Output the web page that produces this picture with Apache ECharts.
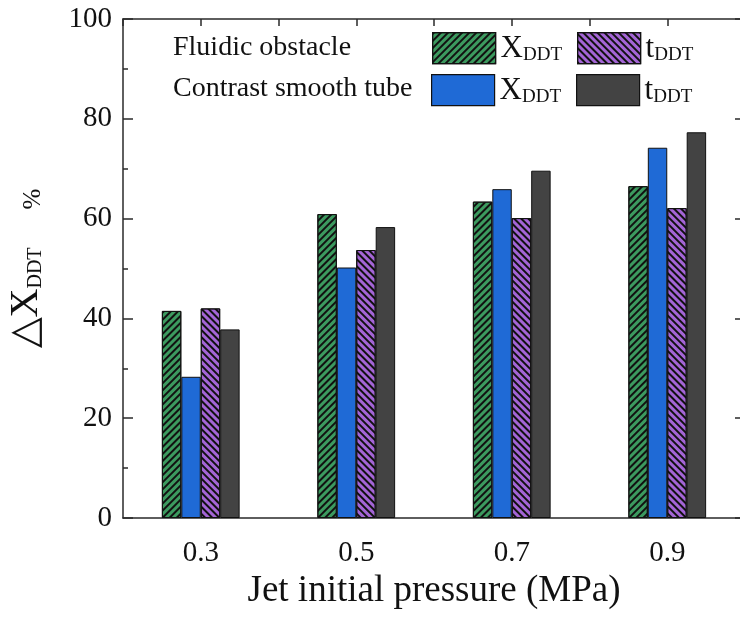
<!DOCTYPE html>
<html><head><meta charset="utf-8">
<script src="https://cdn.jsdelivr.net/npm/echarts@6/dist/echarts.min.js"></script>
<style>html,body{margin:0;padding:0;background:#fff}#c{width:740px;height:626px}</style>
</head><body><div id="c"></div>
<script>
const categories = ['0.3', '0.5', '0.7', '0.9'];
const fluidicX = [41.5, 60.9, 63.4, 66.5];
const smoothX  = [28.3, 50.2, 65.9, 74.2];
const fluidicT = [42.0, 53.7, 60.1, 62.1];
const smoothT  = [37.8, 58.3, 69.6, 77.3];
const rowLabels = ['Fluidic obstacle', 'Contrast smooth tube'];
const xTitle = 'Jet initial pressure (MPa)';

const FONT = '"Liberation Serif", "Times New Roman", serif';
const AX = '#2a2a2a';
const chart = echarts.init(document.getElementById('c'), null, {renderer: 'canvas'});

const stripe = (rot) => ({symbol: 'rect', symbolSize: 1, dashArrayX: [1, 0], dashArrayY: [2, 2.2], rotation: rot, color: '#111'});
const border = {borderColor: '#111', borderWidth: 1};

const seriesDefs = [
  {id: 'gx', data: fluidicX, itemStyle: Object.assign({color: '#3c9a5f', decal: stripe(-Math.PI / 4)}, border)},
  {id: 'bx', data: smoothX, itemStyle: Object.assign({color: '#1f6ad6'}, border)},
  {id: 'pt', data: fluidicT, itemStyle: Object.assign({color: '#a465d6', decal: stripe(Math.PI / 4)}, border)},
  {id: 'dt', data: smoothT, itemStyle: Object.assign({color: '#434343'}, border)}
];

const legendRich = {
  m: {fontSize: 31, lineHeight: 32, verticalAlign: 'bottom', fontFamily: FONT, color: '#111'},
  s: {fontSize: 19, lineHeight: 6, verticalAlign: 'bottom', fontFamily: FONT, color: '#111'}
};
const legendLabel = {gx: '{m|X}{s|DDT}', bx: '{m|X}{s|DDT}', pt: '{m|t}{s|DDT}', dt: '{m|t}{s|DDT}'};
const mkLegend = (id, left, top) => ({
  data: [id], left: left, top: top, padding: 0, icon: 'rect', itemWidth: 63, itemHeight: 31,
  selectedMode: false, formatter: (n) => legendLabel[n],
  itemStyle: {borderColor: '#111', borderWidth: 1.2},
  textStyle: {rich: legendRich, fontFamily: FONT}
});

const line = {show: true, onZero: false, lineStyle: {color: AX, width: 1.5}};

const option = {
  animation: false,
  backgroundColor: '#fff',
  grid: {left: 123, top: 19, width: 622, height: 499, containLabel: false, outerBoundsMode: 'none'},
  legend: [mkLegend('gx', 432, 32), mkLegend('pt', 577, 32), mkLegend('bx', 431, 74), mkLegend('dt', 576, 74)],
  graphic: [
    {type: 'text', x: 173, y: 48, style: {text: rowLabels[0], font: '28px ' + FONT, fill: '#111', verticalAlign: 'middle'}},
    {type: 'text', x: 173, y: 89, style: {text: rowLabels[1], font: '28px ' + FONT, fill: '#111', verticalAlign: 'middle'}}
  ],
  xAxis: [
    {type: 'category', data: categories, position: 'bottom',
     axisLine: line,
     axisTick: {inside: true, length: 5, lineStyle: {color: AX, width: 1.5}},
     axisLabel: {fontFamily: FONT, fontSize: 29, color: '#111', margin: 21},
     name: xTitle, nameLocation: 'middle', nameGap: 51,
     nameTextStyle: {fontFamily: FONT, fontSize: 37, color: '#111'}},
    {type: 'value', position: 'top', min: 0, max: 8, interval: 1,
     axisLine: line,
     axisTick: {show: true, inside: true, length: 7, lineStyle: {color: AX, width: 1.5}},
     axisLabel: {show: false}, splitLine: {show: false}}
  ],
  yAxis: [
    {type: 'value', min: 0, max: 100, interval: 20, position: 'left',
     axisLine: line,
     axisTick: {show: true, inside: true, length: 10, lineStyle: {color: AX, width: 1.5}},
     minorTick: {show: true, splitNumber: 2, length: 5, lineStyle: {color: AX, width: 1.5}},
     axisLabel: {fontFamily: FONT, fontSize: 29, color: '#111', margin: 11},
     splitLine: {show: false},
     name: '{a|△X}{b|DDT}{c|%}', nameLocation: 'middle', nameRotate: 90, nameGap: 77,
     nameTextStyle: {rich: {
       a: {fontSize: 40, lineHeight: 40, verticalAlign: 'bottom', fontFamily: FONT, color: '#111'},
       b: {fontSize: 20, lineHeight: 16, verticalAlign: 'bottom', fontFamily: FONT, color: '#111'},
       c: {fontSize: 25, lineHeight: 8, verticalAlign: 'bottom', fontFamily: FONT, color: '#111', padding: [0, 0, 0, 38]}
     }}},
    {type: 'value', min: 0, max: 100, interval: 20, position: 'right',
     axisLine: line,
     axisTick: {show: true, inside: true, length: 10, lineStyle: {color: AX, width: 1.5}},
     minorTick: {show: true, splitNumber: 2, length: 5, lineStyle: {color: AX, width: 1.5}},
     axisLabel: {show: false}, splitLine: {show: false}}
  ],
  series: seriesDefs.map(s => ({
    type: 'bar', id: s.id, name: s.id, data: s.data, xAxisIndex: 0, yAxisIndex: 0,
    barGap: '0%', barCategoryGap: '50%', itemStyle: s.itemStyle
  }))
};
chart.setOption(option);
</script></body></html>
